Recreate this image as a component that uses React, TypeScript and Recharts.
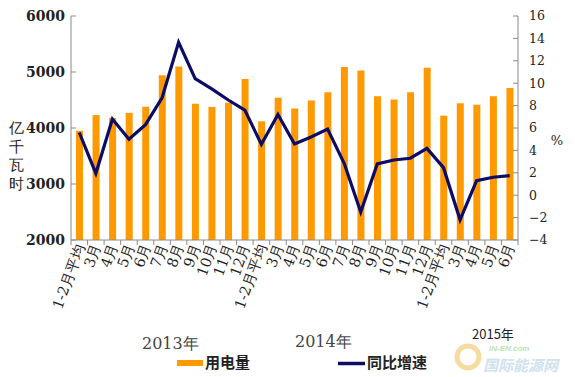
import React from 'react';
import { ComposedChart, Bar, Line, XAxis, YAxis } from 'recharts';

const monthLabels = [
  '1-2月平均', '3月', '4月', '5月', '6月', '7月', '8月', '9月', '10月', '11月', '12月',
  '1-2月平均', '3月', '4月', '5月', '6月', '7月', '8月', '9月', '10月', '11月', '12月',
  '1-2月平均', '3月', '4月', '5月', '6月',
];
const consumption = [
  3950, 4230, 4180, 4270, 4380, 4940, 5100, 4435, 4375, 4450, 4875,
  4120, 4540, 4350, 4490, 4640, 5090, 5025, 4565, 4510, 4637, 5077,
  4220, 4440, 4417, 4565, 4714,
];
const growth = [
  5.6, 1.95, 6.8, 5.0, 6.3, 8.7, 13.65, 10.4, 9.5, 8.5, 7.6,
  4.54, 7.2, 4.57, 5.2, 5.9, 2.85, -1.5, 2.79, 3.14, 3.3, 4.18,
  2.46, -2.2, 1.3, 1.6, 1.74,
];
const leftTicks = [2000, 3000, 4000, 5000, 6000];
const rightTicks = [-4, -2, 0, 2, 4, 6, 8, 10, 12, 14, 16];
const yearLabels = ['2013年', '2014年', '2015年'];
const seriesNames = ['用电量', '同比增速'];
const unitLeft = ['亿', '千', '瓦', '时'];

const data = monthLabels.map((m, i) => ({
  idx: i,
  label: m,
  value: consumption[i],
  rate: growth[i],
}));

const AXIS = '#8a8a8a';
const ORANGE = '#FF9900';
const NAVY = '#0c0c66';
const SERIF = '"DejaVu Serif", "Liberation Serif", serif';

const XTick = (props: any) => {
  const { x, y, payload, index } = props;
  const half = payload && payload.offset ? payload.offset : 8.28;
  const axisY = y - 7;
  const last = index === monthLabels.length - 1;
  return (
    <g>
      <line x1={x - half} x2={x - half} y1={axisY} y2={axisY + 5} stroke={AXIS} />
      {last && <line x1={x + half} x2={x + half} y1={axisY} y2={axisY + 5} stroke={AXIS} />}
      <text
        transform={`translate(${x + 1},${y - 3}) rotate(-70)`}
        textAnchor="end"
        dy="0.35em"
        fontSize={14.5}
        fontFamily={SERIF}
        fill="#222"
      >
        {monthLabels[payload.value]}
      </text>
    </g>
  );
};

const LeftTick = (props: any) => {
  const { x, y, payload } = props;
  const axisX = x + 9;
  return (
    <g>
      <line x1={axisX} x2={axisX + 5} y1={y} y2={y} stroke={AXIS} />
      <text x={x + 3} y={y} dy="0.35em" textAnchor="end" fontSize={14} fontWeight="bold" fontFamily={SERIF} fill="#222">
        {payload.value}
      </text>
    </g>
  );
};

const RightTick = (props: any) => {
  const { x, y, payload } = props;
  const axisX = x - 9;
  const v = payload.value;
  return (
    <g>
      <line x1={axisX} x2={axisX - 5} y1={y} y2={y} stroke={AXIS} />
      <text x={x + 2} y={y} dy="0.35em" textAnchor="start" fontSize={12.5} fontFamily={SERIF} fill="#222">
        {v < 0 ? '\u2212' + Math.abs(v) : v}
      </text>
    </g>
  );
};

export default function App() {
  return (
    <div style={{ position: 'absolute', left: 0, top: 0, width: 575, height: 377, background: '#fff' }}>
      <ComposedChart
        width={575}
        height={377}
        data={data}
        margin={{ top: 16, right: 0, bottom: 0, left: 0 }}
        barSize={7}
      >
        <XAxis
          dataKey="idx"
          type="category"
          height={137}
          interval={0}
          tick={<XTick />}
          tickLine={false}
          tickSize={5}
          tickMargin={2}
          axisLine={{ stroke: AXIS }}
        />
        <YAxis
          yAxisId="left"
          orientation="left"
          width={71}
          domain={[2000, 6000]}
          ticks={leftTicks}
          interval={0}
          tick={<LeftTick />}
          tickLine={false}
          tickSize={5}
          tickMargin={4}
          axisLine={{ stroke: AXIS }}
          allowDataOverflow
        />
        <YAxis
          yAxisId="right"
          orientation="right"
          width={57}
          domain={[-4, 16]}
          ticks={rightTicks}
          interval={0}
          tick={<RightTick />}
          tickLine={false}
          tickSize={5}
          tickMargin={4}
          axisLine={{ stroke: AXIS }}
          allowDataOverflow
        />
        <Bar yAxisId="left" dataKey="value" fill={ORANGE} isAnimationActive={false} />
        <Line
          yAxisId="right"
          dataKey="rate"
          type="linear"
          stroke={NAVY}
          strokeWidth={3.2}
          dot={false}
          strokeLinejoin="miter"
          isAnimationActive={false}
        />
      </ComposedChart>
      <svg width={575} height={377} style={{ position: 'absolute', left: 0, top: 0, pointerEvents: 'none' }}>
        {unitLeft.map((c, i) => (
          <text key={c} x={16} y={128 + i * 18.5} dy="0.35em" textAnchor="middle" fontSize={15} fontFamily={SERIF} fill="#222">
            {c}
          </text>
        ))}
        <text x={557} y={140} dy="0.35em" textAnchor="middle" fontSize={13} fontFamily={SERIF} fill="#222">%</text>
        <text x={142} y={343} dy="0.35em" fontSize={16} fontFamily={SERIF} fill="#444">{yearLabels[0]}</text>
        <text x={295} y={341} dy="0.35em" fontSize={16} fontFamily={SERIF} fill="#444">{yearLabels[1]}</text>
        <circle cx={468} cy={357} r={11} fill="none" stroke="#f6dca0" strokeWidth={5} />
        <text x={489} y={348} dy="0.35em" fontSize={8} fontStyle="italic" fontWeight="bold" fontFamily="Arial, sans-serif" fill="#bfe3b0">IN-EN.com</text>
        <text x={483} y={366} dy="0.35em" fontSize={15} fontStyle="italic" fontWeight="bold" fontFamily='"Noto Sans CJK SC", sans-serif' fill="#cfe2ef">国际能源网</text>
        <text x={472} y={334} dy="0.35em" fontSize={13} fontFamily='"Noto Sans CJK SC", sans-serif' fill="#222">{yearLabels[2]}</text>
        <rect x={177} y={360} width={26} height={6} fill={ORANGE} />
        <text x={205} y={363} dy="0.35em" fontSize={15} fontWeight="bold" fontFamily='"Noto Sans CJK SC", sans-serif' fill="#222">{seriesNames[0]}</text>
        <line x1={338} x2={365} y1={363.5} y2={363.5} stroke={NAVY} strokeWidth={3.5} />
        <text x={367} y={363} dy="0.35em" fontSize={15} fontWeight="bold" fontFamily='"Noto Sans CJK SC", sans-serif' fill="#222">{seriesNames[1]}</text>
      </svg>
    </div>
  );
}
